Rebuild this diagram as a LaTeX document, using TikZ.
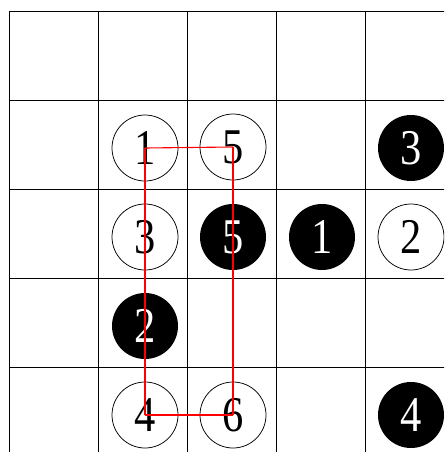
\documentclass[tikz,border=0pt]{standalone}
\usepackage{fontspec}
\newfontfamily\digitfont[FakeStretch=0.85]{Liberation Serif}
\begin{document}
\begin{tikzpicture}[x=1pt,y=-1pt,
  gridline/.style={line width=1pt, black},
  stone/.style={circle, minimum size=66pt, inner sep=0pt, font=\digitfont\fontsize{50}{50}\selectfont},
  wst/.style={stone, draw=black, line width=0.75pt, fill=white},
  bst/.style={stone, fill=black, text=white},
  redline/.style={draw={rgb,255:red,255;green,0;blue,0}, line width=1.1pt}]
\useasboundingbox (0,0) rectangle (444,452);
\clip (0,0) rectangle (444,452);
\foreach \x in {9.5,98.5,187.5,276.5,365.5} \draw[gridline] (\x,11) -- (\x,470);
\foreach \y in {11.5,100.5,189.5,278.5,367.5} \draw[gridline] (9,\y) -- (470,\y);
\node[wst] (w1) at (145,148) {1};
\node[wst] (w5) at (233,147) {5};
\node[bst] (b3) at (411,148) {3};
\node[wst] (w3) at (145,237) {3};
\node[bst] (b5) at (233,237) {5};
\node[bst] (b1) at (322,237) {1};
\node[wst] (w2) at (411,237) {2};
\node[bst] (b2) at (145,326) {2};
\node[wst] (w4) at (145,415) {4};
\node[wst] (w6) at (233,415) {6};
\node[bst] (b4) at (411,415) {4};
\draw[redline] (w1.center) -- (w5.center);
\draw[redline] (w5.center) -- (w6.center);
\draw[redline] (w6.center) -- (w4.center);
\draw[redline] (w4.center) -- (w1.center);
\end{tikzpicture}
\end{document}
